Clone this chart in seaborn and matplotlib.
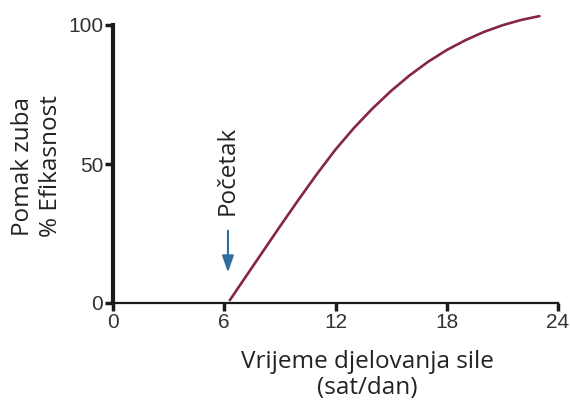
import numpy as np
import pandas as pd
import matplotlib
matplotlib.use('Agg')
import matplotlib.pyplot as plt
import seaborn as sns

# curve (hours per day vs % efficiency)
sati = [6.3, 7, 8, 9, 10, 11, 12, 13, 14, 15, 16, 17, 18, 19, 20, 21, 22, 23]
efikasnost = [1, 7.9, 17.7, 27.5, 37.1, 46.4, 55.2, 63.0, 70.0, 76.3, 81.9, 86.8,
              91.0, 94.5, 97.5, 99.9, 101.8, 103.2]
x_ticks = [0, 6, 12, 18, 24]
y_ticks = [0, 50, 100]
start_sat = 6.2

df = pd.DataFrame({'sat': sati, 'ef': efikasnost})

sns.set_style('white')
plt.rcParams['font.family'] = ['Liberation Sans', 'DejaVu Sans']

fig = plt.figure(figsize=(5.7, 4.03), dpi=100)
ax = fig.add_axes([113/570, 100/403, 445/570, 278/403])

sns.lineplot(data=df, x='sat', y='ef', ax=ax, color='#862646', linewidth=1.9, clip_on=False)

ax.set_xlim(0, 24)
ax.set_ylim(0, 100)
ax.set_xticks(x_ticks)
ax.set_yticks(y_ticks)
ax.tick_params(axis='both', bottom=True, left=True, direction='out', length=6, width=2.5,
               labelsize=15, pad=1, colors='#1a1a1a', labelcolor='#333333')
for s in ['top', 'right']:
    ax.spines[s].set_visible(False)
ax.spines['left'].set_linewidth(3)
ax.spines['left'].set_color('#1a1a1a')
ax.spines['bottom'].set_linewidth(1.6)
ax.spines['bottom'].set_color('#1a1a1a')

ax.set_xlabel('')
ax.set_ylabel('')

fig.text(37/570, 1 - 166/403, 'Pomak zuba\n% Efikasnost', rotation=90, ha='center', va='center',
         fontsize=17.5, family='Open Sans', color='#222222', linespacing=1.25)

fig.text(367/570, 1 - 375/403, 'Vrijeme djelovanja sile\n(sat/dan)', ha='center', va='center',
         fontsize=17.5, family='Open Sans', color='#222222', linespacing=1.1)

ax.text(start_sat, 31.5, 'Početak', rotation=90, ha='center', va='bottom',
        fontsize=17.5, family='Open Sans', color='#222222')
ax.annotate('', xy=(start_sat, 10), xytext=(start_sat, 27),
            arrowprops=dict(arrowstyle='-|>,head_width=0.35,head_length=1.0',
                            color='#2f6d9e', lw=1.5))

fig.savefig('out.png', dpi=100)
